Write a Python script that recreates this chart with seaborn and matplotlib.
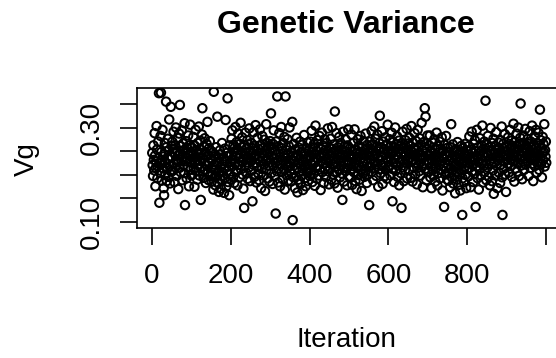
import numpy as np
import pandas as pd
import matplotlib
matplotlib.use("Agg")
import matplotlib.pyplot as plt
import seaborn as sns

# Sampled genetic variance (Vg), one value per MCMC iteration, in thousandths
vg_thousandths = [
    247, 221, 198, 263, 232, 210, 289, 241, 176, 215, 229, 304, 254, 193, 218, 271, 236, 374, 141, 226,
    205, 283, 375, 249, 188, 231, 296, 214, 239, 172, 157, 244, 268, 201, 225, 356, 259, 187, 213, 277,
    234, 196, 252, 318, 219, 182, 240, 345, 207, 262,
    238, 271, 209, 256, 292, 224, 185, 247, 263, 216, 301, 233, 198, 252, 279, 241, 170, 227, 288, 215,
    349, 244, 206, 261, 232, 295, 189, 238, 267, 221, 253, 204, 310, 136, 246, 229, 272, 193, 258, 235,
    217, 284, 242, 176, 263, 228, 307, 211, 249, 199,
    226, 258, 201, 243, 281, 214, 237, 175, 262, 229, 296, 208, 251, 233, 190, 268, 221, 244, 303, 199,
    255, 230, 273, 147, 218, 247, 286, 342, 207, 236, 194, 261, 225, 278, 212, 249, 183, 239, 266, 220,
    313, 204, 242, 189, 257, 226, 272, 198, 235, 251,
    214, 186, 232, 201, 248, 169, 377, 222, 195, 240, 178, 211, 259, 197, 226, 324, 183, 238, 205, 164,
    229, 252, 191, 216, 171, 244, 207, 268, 188, 223, 199, 235, 162, 213, 256, 194, 317, 230, 176, 247,
    209, 363, 185, 241, 218, 157, 263, 202, 228, 190,
    242, 277, 218, 295, 231, 196, 264, 249, 183, 258, 225, 302, 239, 207, 270, 246, 178, 253, 288, 221,
    237, 195, 266, 244, 311, 212, 259, 228, 280, 201, 248, 171, 234, 130, 263, 219, 290, 241, 205, 256,
    227, 274, 192, 238, 265, 216, 299, 233, 187, 250,
    231, 268, 209, 245, 144, 257, 222, 291, 238, 196, 262, 226, 306, 243, 184, 251, 217, 279, 234, 203,
    255, 189, 240, 297, 228, 264, 172, 247, 213, 283, 236, 199, 258, 222, 275, 241, 166, 252, 230, 308,
    211, 246, 268, 193, 237, 260, 220, 186, 249, 272,
    227, 331, 204, 258, 240, 181, 266, 219, 295, 235, 197, 252, 226, 118, 271, 243, 208, 367, 230, 184,
    261, 214, 289, 238, 176, 249, 223, 302, 206, 257, 232, 191, 268, 245, 212, 281, 169, 236, 367, 224,
    253, 199, 242, 276, 217, 188, 262, 229, 301, 208,
    219, 248, 186, 232, 203, 313, 104, 241, 195, 266, 211, 229, 172, 254, 238, 197, 279, 215, 163, 243,
    226, 190, 258, 207, 235, 271, 181, 222, 249, 200, 264, 214, 168, 239, 227, 285, 193, 246, 218, 176,
    233, 257, 205, 221, 269, 187, 241, 212, 252, 198,
    236, 271, 209, 249, 294, 222, 185, 258, 231, 203, 266, 244, 177, 228, 305, 215, 251, 237, 192, 274,
    220, 260, 199, 243, 283, 212, 238, 168, 255, 229, 290, 206, 247, 225, 262, 183, 239, 276, 214, 253,
    196, 232, 268, 219, 245, 299, 208, 234, 180, 257,
    241, 213, 277, 229, 190, 256, 302, 224, 248, 201, 265, 236, 182, 335, 218, 252, 227, 289, 206, 244,
    173, 259, 232, 211, 281, 246, 195, 237, 268, 220, 254, 203, 147, 243, 292, 228, 186, 261, 215, 239,
    276, 209, 250, 231, 178, 263, 222, 297, 240, 197,
    228, 257, 194, 243, 212, 286, 235, 179, 251, 219, 268, 206, 239, 297, 224, 187, 254, 232, 170, 246,
    215, 276, 200, 238, 262, 221, 190, 249, 283, 211, 236, 166, 258, 227, 244, 203, 272, 218, 196, 253,
    230, 288, 209, 241, 183, 264, 225, 201, 248, 217,
    136, 247, 271, 218, 256, 233, 294, 207, 242, 265, 189, 251, 228, 303, 239, 214, 277, 245, 198, 260,
    223, 286, 236, 175, 254, 212, 268, 326, 231, 204, 259, 240, 293, 219, 181, 248, 271, 226, 255, 197,
    243, 280, 211, 237, 264, 192, 250, 307, 229, 216,
    252, 219, 276, 238, 199, 261, 244, 290, 213, 144, 247, 270, 226, 185, 258, 234, 301, 209, 243, 265,
    221, 282, 196, 250, 237, 273, 178, 255, 228, 262, 204, 245, 130, 268, 231, 292, 216, 249, 187, 257,
    239, 210, 274, 246, 225, 298, 193, 253, 232, 267,
    248, 212, 279, 236, 263, 194, 251, 304, 228, 243, 186, 269, 232, 257, 215, 289, 240, 201, 273, 226,
    254, 180, 238, 296, 221, 260, 247, 208, 278, 233, 199, 265, 242, 311, 219, 252, 174, 237, 270, 225,
    258, 342, 213, 324, 246, 189, 267, 230, 284, 207,
    241, 206, 263, 227, 284, 195, 250, 218, 172, 246, 232, 269, 211, 238, 199, 276, 224, 255, 186, 243,
    215, 290, 230, 178, 261, 237, 204, 248, 222, 271, 193, 256, 229, 212, 280, 240, 167, 251, 219, 235,
    132, 264, 226, 201, 245, 283, 214, 239, 190, 258,
    221, 188, 247, 203, 232, 174, 259, 214, 308, 196, 238, 209, 265, 182, 226, 251, 199, 241, 161, 219,
    255, 206, 233, 190, 270, 215, 244, 179, 228, 202, 249, 167, 236, 211, 262, 224, 115, 193, 257, 230,
    185, 243, 218, 266, 200, 235, 172, 252, 213, 239,
    226, 261, 197, 243, 282, 215, 236, 174, 254, 229, 292, 208, 247, 221, 185, 266, 239, 203, 274, 232,
    132, 251, 218, 296, 240, 193, 259, 227, 169, 245, 212, 278, 235, 250, 199, 263, 224, 305, 241, 184,
    256, 220, 271, 207, 238, 358, 230, 189, 264, 247,
    216, 283, 241, 196, 259, 229, 178, 252, 300, 223, 244, 187, 268, 235, 210, 277, 160, 248, 226, 262,
    199, 239, 291, 220, 255, 172, 246, 231, 269, 205, 257, 236, 183, 274, 222, 248, 303, 195, 115, 240,
    266, 213, 250, 228, 287, 201, 243, 164, 259, 234,
    251, 224, 280, 238, 205, 266, 247, 296, 219, 258, 232, 273, 196, 245, 262, 229, 309, 241, 186, 255,
    270, 214, 249, 237, 288, 207, 260, 226, 301, 243, 198, 265, 234, 279, 352, 220, 252, 241, 191, 268,
    229, 284, 246, 211, 257, 236, 298, 222, 263, 248,
    254, 229, 277, 243, 198, 266, 238, 293, 250, 215, 271, 236, 259, 305, 224, 248, 187, 262, 240, 282,
    219, 257, 233, 296, 246, 205, 268, 251, 228, 290, 242, 211, 263, 339, 236, 274, 223, 258, 195, 247,
    281, 232, 266, 249, 308, 218, 253, 239, 271, 226,
]

y_ticks = [0.10, 0.15, 0.20, 0.25, 0.30, 0.35]
y_tick_labels = ["0.10", "", "", "", "0.30", ""]
x_ticks = [0, 200, 400, 600, 800, 1000]
x_tick_labels = ["0", "200", "400", "600", "800", ""]

df = pd.DataFrame({
    "Iteration": np.arange(1, len(vg_thousandths) + 1),
    "Vg": np.array(vg_thousandths) / 1000.0,
})

sns.set_style("white")
plt.rcParams["font.family"] = ["Liberation Sans", "DejaVu Sans"]
plt.rcParams["text.color"] = "black"
plt.rcParams["xtick.color"] = "black"
plt.rcParams["ytick.color"] = "black"

W, H = 556, 358
fig = plt.figure(figsize=(W / 100, H / 100), dpi=100)

# plot region in pixels (left, bottom, right, top); right edge runs past the canvas
left_px, right_px = 136.5, 562.0
top_px, bottom_px = 88.0, 227.5
ax = fig.add_axes([left_px / W, 1 - bottom_px / H,
                   (right_px - left_px) / W, (bottom_px - top_px) / H])

# open circles, like R's default plotting symbol
sns.scatterplot(data=df, x="Iteration", y="Vg", ax=ax, marker="o", s=37,
                facecolor="none", edgecolor="black", linewidth=1.45, legend=False)

n = len(df)
ax.set_xlim(1 - 0.04 * (n - 1), n + 0.04 * (n - 1))
ax.set_ylim(0.0883, 0.385)

ax.set_xticks(x_ticks)
ax.set_xticklabels(x_tick_labels, fontsize=20)
ax.set_yticks(y_ticks)
ax.set_yticklabels(y_tick_labels, fontsize=20, rotation=90, va="center")

ax.tick_params(axis="both", which="major", bottom=True, left=True, top=False, right=False,
               direction="out", length=12.5, width=1.2, color="black", labelcolor="black")
ax.tick_params(axis="x", pad=13)
ax.tick_params(axis="y", pad=10)

for side in ["left", "bottom", "top", "right"]:
    ax.spines[side].set_visible(True)
    ax.spines[side].set_color("black")
    ax.spines[side].set_linewidth(1.2)

ax.set_xlabel("")
ax.set_ylabel("")

fig.text(346 / W, 1 - 25 / H, "Genetic Variance", fontsize=23, fontweight="bold",
         ha="center", va="center", color="black")
fig.text(346 / W, 1 - 340 / H, "Iteration", fontsize=20, ha="center", va="center", color="black")
fig.text(27 / W, 1 - 159 / H, "Vg", fontsize=20, rotation=90, ha="center", va="center", color="black")

fig.savefig("out.png", dpi=100)
